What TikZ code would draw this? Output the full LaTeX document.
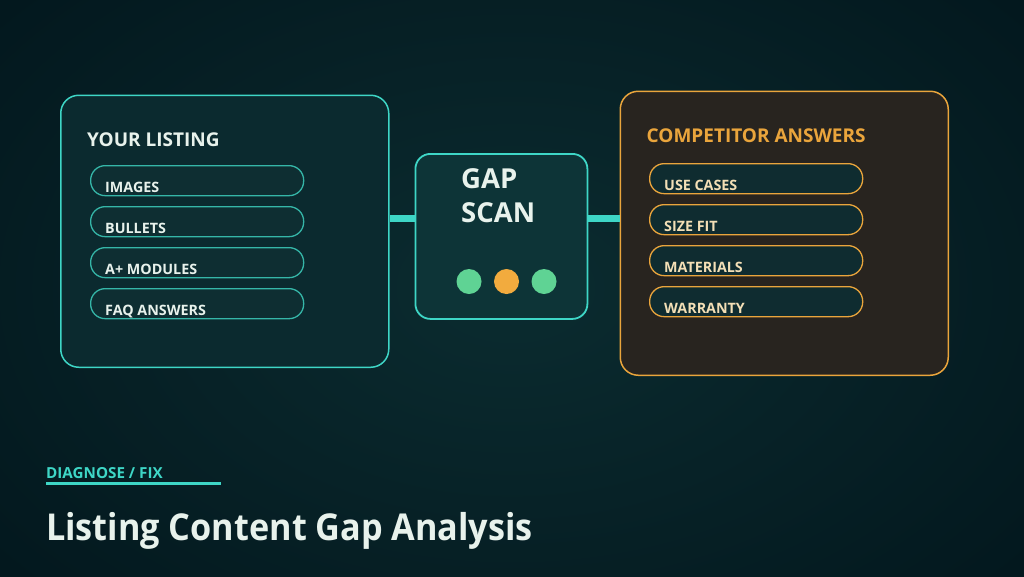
\documentclass[tikz,border=0pt]{standalone}
\usepackage{fontspec}
\setmainfont{Open Sans}
\newfontfamily\titlefont[FakeStretch=0.925]{Open Sans}
\definecolor{bgin}{HTML}{0B2C30}
\definecolor{bgout}{HTML}{03181E}
\definecolor{teal}{HTML}{3ED6C6}
\definecolor{tealfill}{HTML}{0B2A2F}
\definecolor{pillfill}{HTML}{0E2E32}
\definecolor{gapfill}{HTML}{0D3437}
\definecolor{orng}{HTML}{EAA53C}
\definecolor{brownfill}{HTML}{28241F}
\definecolor{rpill}{HTML}{0F2C30}
\definecolor{wtext}{HTML}{E8F2EC}
\definecolor{cream}{HTML}{F3DFB6}
\definecolor{dotg}{HTML}{5FD394}
\definecolor{doto}{HTML}{F2AB3E}
\begin{document}
\begin{tikzpicture}[x=1pt,y=-1pt,
  panelL/.style={draw=teal,fill=tealfill,line width=1.5pt,rounded corners=18pt,anchor=north west,inner sep=0pt},
  panelR/.style={draw=orng,fill=brownfill,line width=1.5pt,rounded corners=18pt,anchor=north west,inner sep=0pt},
  pillL/.style={draw=teal!85!black,fill=pillfill,line width=1.3pt,rounded corners=14.5pt,anchor=north west,minimum width=213pt,minimum height=30pt,inner sep=0pt},
  pillR/.style={draw=orng,fill=rpill,line width=1.3pt,rounded corners=14.5pt,anchor=north west,minimum width=213pt,minimum height=30pt,inner sep=0pt},
  head/.style={anchor=base west,inner sep=0pt,font=\fontsize{19}{23}\selectfont\bfseries},
  item/.style={anchor=base west,inner sep=0pt,font=\fontsize{14.3}{17}\selectfont\bfseries},
  conn/.style={draw=teal,line width=7pt},
  dot/.style={circle,inner sep=0pt,minimum size=25pt},
  gaptext/.style={anchor=base west,inner sep=0pt,text=wtext,font=\fontsize{27.5}{34}\selectfont\bfseries}
]
\useasboundingbox (0,0) rectangle (1024,576);
\shade[inner color=bgin,outer color=bgout] (-150,-150) rectangle (1174,726);

% left panel
\node[panelL,minimum width=328pt,minimum height=272pt] (left) at (60,94.5) {};
\node[head,text=wtext] (lh) at (87,146) {YOUR LISTING};
\node[pillL] (l1) at (90,165) {};
\node[pillL] (l2) at (90,206) {};
\node[pillL] (l3) at (90,247) {};
\node[pillL] (l4) at (90,288) {};
\node[item,text=wtext] (t1) at (105,192) {IMAGES};
\node[item,text=wtext] (t2) at (105,233) {BULLETS};
\node[item,text=wtext] (t3) at (105,274) {A+ MODULES};
\node[item,text=wtext] (t4) at (105,315) {FAQ ANSWERS};

% gap box
\node[draw=teal,fill=gapfill,line width=1.8pt,rounded corners=15pt,anchor=north west,inner sep=0pt,minimum width=172pt,minimum height=165pt] (gap) at (414.5,153) {};
\node[gaptext] (g1) at (461,188.5) {GAP};
\node[gaptext] (g2) at (461,222.5) {SCAN};
\node[dot,fill=dotg] (d1) at (469,281.5) {};
\node[dot,fill=doto] (d2) at (506.5,281.5) {};
\node[dot,fill=dotg] (d3) at (544,281.5) {};

% right panel
\node[panelR,minimum width=328pt,minimum height=284pt] (right) at (619.5,90.5) {};
\node[head,text=orng] (rh) at (646.5,142.5) {COMPETITOR ANSWERS};
\node[pillR] (r1) at (649,163) {};
\node[pillR] (r2) at (649,204) {};
\node[pillR] (r3) at (649,245) {};
\node[pillR] (r4) at (649,286) {};
\node[item,text=cream] (s1) at (664,190) {USE CASES};
\node[item,text=cream] (s2) at (664,231) {SIZE FIT};
\node[item,text=cream] (s3) at (664,272) {MATERIALS};
\node[item,text=cream] (s4) at (664,313) {WARRANTY};

% connectors
\draw[conn] (left.east |- 0,218) -- (gap.west |- 0,218);
\draw[conn] (gap.east |- 0,218) -- (right.west |- 0,218);

% footer
\node[anchor=base west,inner sep=0pt,text=teal,font=\fontsize{15.2}{18}\selectfont\bfseries] (tag) at (46,478.5) {DIAGNOSE / FIX};
\coordinate (u1) at (46,483);
\coordinate (u2) at (221,483);
\draw[teal,line width=3pt] (u1) -- (u2);
\node[anchor=base west,inner sep=0pt,text=wtext,font=\titlefont\fontsize{37}{44}\selectfont\bfseries] (title) at (46,540) {Listing Content Gap Analysis};
\end{tikzpicture}
\end{document}
